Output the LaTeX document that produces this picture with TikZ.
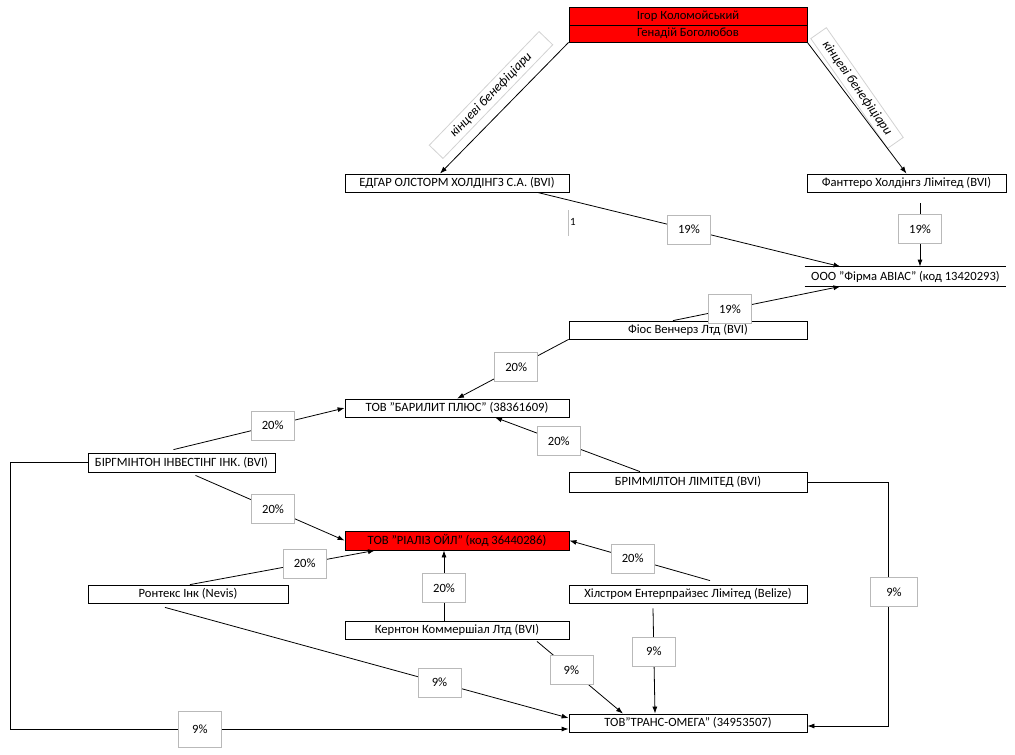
\documentclass[tikz,border=0pt]{standalone}
\usepackage{fontspec}
\setmainfont{Carlito}
\usetikzlibrary{arrows.meta}
\begin{document}
\begin{tikzpicture}[
		x=1pt, y=-1pt,
		line width=0.8pt,
		>={Latex[length=7pt,width=5pt]},
		font=\fontsize{12.6}{14}\selectfont,
		firm/.style={draw, inner sep=0pt, minimum height=18pt},
		redfirm/.style={firm, fill=red},
		pct/.style={draw=gray!55, fill=white, minimum width=43pt, minimum height=29pt, inner sep=0pt},
		benef/.style={draw=gray!35, minimum height=19pt, inner sep=0pt, font=\fontsize{13.3}{15}\selectfont\itshape}
	]
	\useasboundingbox (0,0) rectangle (1015,755);
	\node[redfirm, minimum width=238pt] (kolom) at (688,16) {Ігор Коломойський};
	\node[redfirm, minimum width=238pt, minimum height=17pt] (bogol) at (688,33.5) {Генадій Боголюбов};
	\node[firm, minimum width=224pt] (edgar) at (457,183) {ЕДГАР ОЛСТОРМ ХОЛДІНГЗ С.А. (BVI)};
	\node[firm, minimum width=199pt] (fant) at (906.5,183) {Фанттеро Холдінгз Лімітед (BVI)};
	\node[inner sep=0pt, minimum width=201pt, minimum height=19pt] (avias) at (905.5,276.5) {ООО "Фірма АВІАС" (код 13420293)};
	\node[firm, minimum width=238pt] (fios) at (688,330) {Фіос Венчерз Лтд (BVI)};
	\node[firm, minimum width=224pt] (baryl) at (457,408) {ТОВ "БАРИЛИТ ПЛЮС" (38361609)};
	\node[firm, minimum width=187pt, minimum height=19pt] (birg) at (181.5,462.5) {БІРГМІНТОН ІНВЕСТІНГ ІНК. (BVI)};
	\node[firm, minimum width=238pt, minimum height=20pt] (brim) at (688,482) {БРІММІЛТОН ЛІМІТЕД (BVI)};
	\node[redfirm, minimum width=224pt, minimum height=19pt] (rializ) at (457,540.5) {ТОВ "РІАЛІЗ ОЙЛ" (код 36440286)};
	\node[firm, minimum width=200pt] (ront) at (188,594) {Ронтекс Інк (Nevis)};
	\node[firm, minimum width=224pt] (kern) at (457,630) {Кернтон Коммершіал Лтд (BVI)};
	\node[firm, minimum width=238pt] (hil) at (688,594) {Хілстром Ентерпрайзес Лімітед (Belize)};
	\node[firm, minimum width=238pt] (trans) at (688,723) {ТОВ"ТРАНС-ОМЕГА" (34953507)};
	\draw (avias.north west) -- (avias.north east);
	\draw (avias.south west) -- (avias.south east);

	\node[benef, minimum width=158pt, rotate=46] (benleft) at (491,95) {кінцеві бенефіціари};
	\node[benef, minimum width=134pt, rotate=-55] (benright) at (857,88) {кінцеві бенефіціари};
	\draw[->] (bogol.south west) -- ([xshift=-17pt]edgar.north);
	\draw[->] (bogol.south east) -- (fant.north);

	\node[font=\fontsize{11}{12}\selectfont, inner sep=0pt] (one) at (573,222) {1};
	\draw[gray!50, line width=0.6pt] ([xshift=-5pt,yshift=12pt]one.center) -- ([xshift=-5pt,yshift=-14pt]one.center);

	\draw[->] ([xshift=-32pt]edgar.south east) -- node[pct, pos=0.5] {19\%} ([xshift=-65pt]avias.north);
	\draw[->] ([xshift=13.5pt,yshift=-11pt]fant.south) -- node[pct, pos=0.41] {19\%} ([xshift=14.5pt]avias.north);
	\draw[->] ([xshift=-15pt]fios.north) -- node[pct, pos=0.34] {19\%} ([xshift=-65pt]avias.south);
	\draw[->] (fios.south west) -- node[pct, pos=0.47] {20\%} (baryl.north);
	\draw[->] ([xshift=-8pt,yshift=3pt]birg.north) -- node[pct, pos=0.58] {20\%} (baryl.west);
	\draw[->] ([xshift=-48pt]brim.north) -- node[pct, pos=0.56] {20\%} ([xshift=38pt]baryl.south);
	\draw[->] ([xshift=14pt,yshift=-3pt]birg.south) -- node[pct, pos=0.52] {20\%} (rializ.west);
	\draw[->] ([xshift=2pt]ront.north) -- node[pct, pos=0.62] {20\%} ([xshift=-82pt]rializ.south);
	\draw[->] ([xshift=-13pt]kern.north) -- node[pct, pos=0.46] {20\%} ([xshift=-13pt]rializ.south);
	\draw[->] ([xshift=22pt,yshift=4pt]hil.north) -- node[pct, pos=0.55] {20\%} (rializ.east);
	\draw[->] ([xshift=-35pt,yshift=-5pt]hil.south) -- node[pct, pos=0.41] {9\%} ([xshift=-33pt]trans.north);
	\draw[->] ([xshift=80pt,yshift=-2pt]kern.south) -- node[pct, pos=0.4] {9\%} ([xshift=-65pt]trans.north);
	\draw[->] ([xshift=-23pt,yshift=-4pt]ront.south) -- node[pct, pos=0.68] {9\%} ([yshift=5pt]trans.west);

	\coordinate (leftcorner) at (10,462.5);
	\coordinate (rightcorner) at (888,482);
	\draw[->] (birg.west) -- (leftcorner) |- node[pct, pos=0.67, minimum height=36pt] {9\%} ([yshift=-6pt]trans.west);
	\draw[->] (brim.east) -- (rightcorner) |- node[pct, pos=0.225, xshift=6pt, minimum width=47pt] {9\%} ([yshift=-3pt]trans.east);
\end{tikzpicture}
\end{document}
